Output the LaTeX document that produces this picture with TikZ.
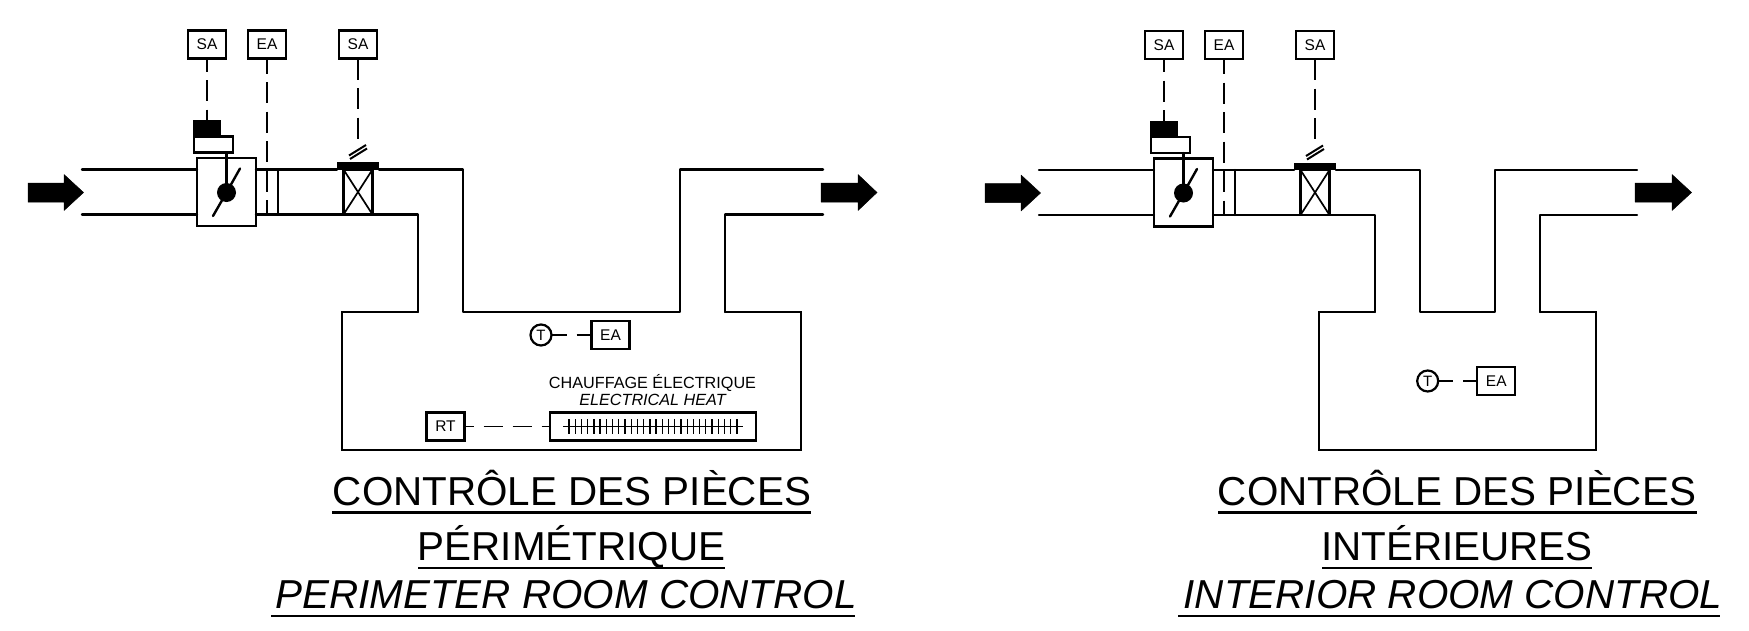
\documentclass[tikz,border=0pt]{standalone}
\usepackage{fontspec}
\setmainfont{Liberation Sans}
\usetikzlibrary{calc}
\newcommand{\fsz}[1]{\fontsize{#1}{#1}\selectfont}
\tikzset{
  x=1pt,y=-1pt,
  duct/.style={line width=2.4pt,line cap=round,line join=round},
  room/.style={line width=1.6pt,line join=miter,line cap=round},
  sig/.style={line width=1.8pt,dash pattern=on 21pt off 8.5pt},
  tag/.style={draw,line width=2.2pt,fill=white,minimum width=38pt,minimum height=28pt,inner sep=0pt,outer sep=0pt,font=\fsz{15.5}},
  solid box/.style={fill=black,inner sep=0pt,outer sep=0pt},
  flow/.style={fill=black,line join=round,draw=black,line width=.5pt},
  title/.style={inner sep=0pt,outer sep=0pt,anchor=base,font=\fsz{40.4}},
  rule/.style={line width=2.2pt},
  frame/.style={draw,line width=2.2pt,inner sep=0pt,outer sep=0pt},
}
\newcommand{\equip}[3]{% #1 suffix, #2 dx, #3 dy
\begin{scope}[shift={(#2,#3)}]
  \node[tag] (sa#1) at (207,44.5) {SA};
  \node[tag] (ea#1) at (267,44.5) {EA};
  \node[tag] (sb#1) at (358,44.5) {SA};
  \coordinate (ia#1) at (82,169.5);
  \coordinate (ib#1) at (82,214.5);
  \node[frame,fill=white,minimum width=59pt,minimum height=68pt] (dmp#1) at (226.5,192) {};
  \node[frame,fill=white,minimum width=39pt,minimum height=16pt] (pos#1) at (213.5,144.5) {};
  \node[solid box,minimum width=27.5pt,minimum height=17pt] (act#1) at (207,128.5) {};
  \node[circle,fill=black,minimum size=19pt,inner sep=0pt,outer sep=0pt] (hub#1) at (226.5,192.5) {};
  \coordinate (ba#1) at (213,216);
  \coordinate (bb#1) at (240,168.5);
  \draw[duct] (ba#1) -- (hub#1.center) -- (bb#1);
  \draw[duct] (pos#1.south -| hub#1) -- (hub#1.center);
  \draw[duct] (ia#1) -- (ia#1 -| dmp#1.west);
  \draw[duct] (ib#1) -- (ib#1 -| dmp#1.west);
  \node[draw,line width=2.4pt,minimum width=29pt,minimum height=45pt,inner sep=0pt,outer sep=0pt] (vav#1) at (358,192) {};
  \draw[line width=1.7pt] (vav#1.north west) -- (vav#1.south east) (vav#1.north east) -- (vav#1.south west);
  \node[solid box,minimum width=42pt,minimum height=7.5pt] (bar#1) at (358,166) {};
  \coordinate (sq#1) at (358,152);
  \draw[line width=2pt] ([shift={(-9,3.5)}]sq#1) -- ([shift={(8,-7)}]sq#1);
  \draw[line width=2pt] ([shift={(-8,7)}]sq#1) -- ([shift={(9,-3.5)}]sq#1);
  \coordinate (cta#1) at (278,169.5);
  \coordinate (ctb#1) at (278,214.5);
  \draw[duct] (dmp#1.east |- ia#1) -- (bar#1.south west |- ia#1);
  \draw[duct] (dmp#1.east |- ib#1) -- (vav#1.south west);
  \draw[duct] (cta#1) -- (ctb#1);
  \draw[sig,dash phase=8pt] (sa#1) -- (act#1);
  \coordinate (eae#1) at (267,214.5);
  \draw[sig,dash phase=6pt] (ea#1) -- (eae#1);
  \coordinate (sbe#1) at (358,139.5);
  \draw[sig] (sb#1) -- (sbe#1);
  \draw[flow] (28,183) -- (64,183) -- (64,174.5) -- (83.5,192.5) -- (64,210.5) -- (64,202) -- (28,202) -- cycle;
\end{scope}
}
\begin{document}
\begin{tikzpicture}
\useasboundingbox (0,0) rectangle (1749,630);
\fill[white] (0,0) rectangle (1749,630);
\equip{L}{0}{0}
\equip{R}{957}{0.5}
\coordinate (bL) at (342,312); \coordinate (cL) at (801,312); \coordinate (dL) at (801,450); \coordinate (eL) at (342,450);
\draw[duct] (barL.south east |- iaL) -- (463,169.5) -- (463,312) -- (680,312) -- (680,169.5) -- (823,169.5);
\draw[duct] (vavL.south east) -- (418,214.5) -- (418,312);
\draw[duct] (725,312) -- (725,214.5) -- (823,214.5);
\draw[room] (418,312) -- (bL) -- (eL) -- (dL) -- (cL) -- (725,312);
\draw[flow] (821,183) -- (858,183) -- (858,174.5) -- (877,192.5) -- (858,210.5) -- (858,202) -- (821,202) -- cycle;
\node[circle,frame,minimum size=21pt,font=\fsz{15}] (tL) at (541,335) {T};
\node[tag] (eaT) at (610.5,335) {EA};
\draw[line width=1.8pt,dash pattern=on 15pt off 10pt] (tL) -- (eaT);
\node[inner sep=0pt,font=\fsz{16.2},anchor=base] (hfr) at (652.5,388.5) {CHAUFFAGE ÉLECTRIQUE};
\node[inner sep=0pt,font=\fsz{16.2}\itshape,anchor=base] (hen) at (652.5,405.5) {ELECTRICAL HEAT};
\node[tag] (rt) at (445.5,426.5) {RT};
\node[frame,minimum width=206pt,minimum height=28pt] (heat) at (653,426.5) {};
\draw[line width=1.8pt,dash pattern=on 19pt off 10pt,dash phase=10pt] (rt) -- (heat);
\coordinate (hl) at (563,426.5); \coordinate (hr) at (743,426.5);
\draw[line width=1.5pt] (hl) -- (hr);
\foreach \i in {0,...,27} \draw[line width=1.3pt] ({569+\i*6.22},419) -- ({569+\i*6.22},434);
\coordinate (bR) at (1319,312); \coordinate (cR) at (1596,312); \coordinate (dR) at (1596,450); \coordinate (eR) at (1319,450);
\draw[duct] (barR.south east |- iaR) -- (1420,170) -- (1420,312) -- (1495,312) -- (1495,170) -- (1637,170);
\draw[duct] (vavR.south east) -- (1375,215) -- (1375,312);
\draw[duct] (1540,312) -- (1540,215) -- (1637,215);
\draw[room] (1375,312) -- (bR) -- (eR) -- (dR) -- (cR) -- (1540,312);
\draw[flow] (1635,183) -- (1672,183) -- (1672,174.5) -- (1691.5,192.5) -- (1672,210.5) -- (1672,202) -- (1635,202) -- cycle;
\node[circle,frame,minimum size=21pt,font=\fsz{15}] (tR) at (1427.7,381) {T};
\node[tag] (eaU) at (1496.3,381) {EA};
\draw[line width=1.8pt,dash pattern=on 15pt off 10pt] (tR) -- (eaU);
\node[title] (t1) at (572,505) {CONTRÔLE DES PIÈCES};
\draw[rule] (332,512.5) -- (811,512.5);
\node[title] (t2) at (571.5,560) {PÉRIMÉTRIQUE};
\draw[rule] (418,568) -- (725,568);
\node[title,font=\fsz{40.4}\itshape] (t3) at (566,608) {PERIMETER ROOM CONTROL};
\draw[rule] (271,616) -- (855,616);
\node[title] (u1) at (1457,505) {CONTRÔLE DES PIÈCES};
\draw[rule] (1218,512.5) -- (1696.5,512.5);
\node[title] (u2) at (1457,560) {INTÉRIEURES};
\draw[rule] (1322,568) -- (1592,568);
\node[title,font=\fsz{40.4}\itshape] (u3) at (1453,608) {INTERIOR ROOM CONTROL};
\draw[rule] (1178,616) -- (1720,616);
\end{tikzpicture}
\end{document}
